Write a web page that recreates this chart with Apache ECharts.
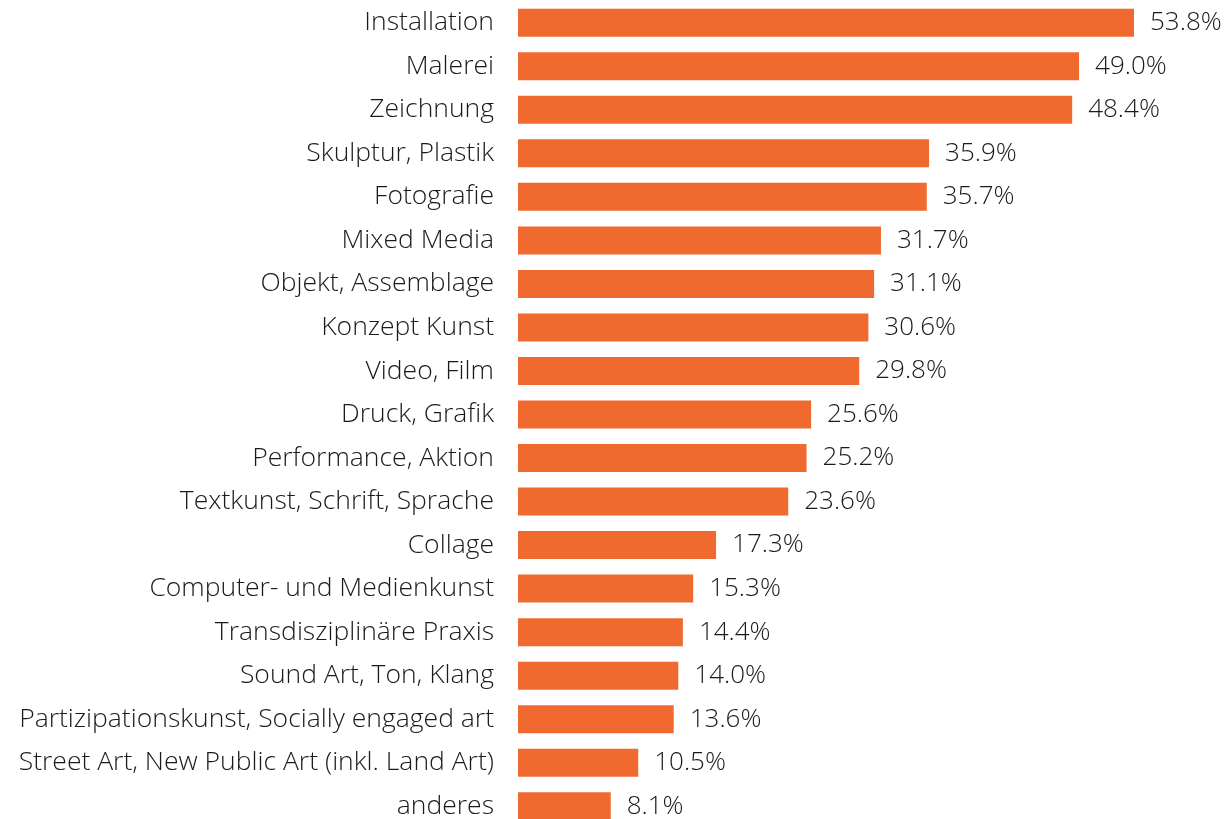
<!DOCTYPE html>
<html>
<head>
<meta charset="utf-8">
<script src="https://cdn.jsdelivr.net/npm/echarts@6/dist/echarts.min.js"></script>
<style>
  html, body { margin: 0; padding: 0; background: #fff; }
  #chart { width: 1225px; height: 819px; }
</style>
</head>
<body>
<div id="chart"></div>
<script>
var categories = [
	'Installation', 'Malerei', 'Zeichnung', 'Skulptur, Plastik', 'Fotografie',
	'Mixed Media', 'Objekt, Assemblage', 'Konzept Kunst', 'Video, Film',
	'Druck, Grafik', 'Performance, Aktion', 'Textkunst, Schrift, Sprache',
	'Collage', 'Computer- und Medienkunst', 'Transdisziplinäre Praxis',
	'Sound Art, Ton, Klang', 'Partizipationskunst, Socially engaged art',
	'Street Art, New Public Art (inkl. Land Art)', 'anderes'
];
var shares = [53.8, 49.0, 48.4, 35.9, 35.7, 31.7, 31.1, 30.6, 29.8, 25.6,
	25.2, 23.6, 17.3, 15.3, 14.4, 14.0, 13.6, 10.5, 8.1];

var chart = echarts.init(document.getElementById('chart'));
var font = '"Open Sans", "Noto Sans", sans-serif';

chart.setOption({
	animation : false,
	grid : {
		left : 518,
		width : 687,
		top : 1,
		height : 827,
		outerBoundsMode : 'none',
		containLabel : false
	},
	xAxis : {
		type : 'value',
		min : 0,
		max : 60,
		show : false
	},
	yAxis : {
		type : 'category',
		data : categories,
		inverse : true,
		axisLine : { show : false },
		axisTick : { show : false },
		axisLabel : {
			margin : 24,
			fontFamily : font,
			fontWeight : 300,
			fontSize : 26.5,
			color : '#1a1a1a'
		}
	},
	series : [ {
		type : 'bar',
		data : shares,
		barWidth : 28,
		itemStyle : { color : '#F0692F' },
		label : {
			show : true,
			position : 'right',
			distance : 16,
			fontFamily : font,
			fontWeight : 300,
			fontSize : 26,
			color : '#1a1a1a',
			formatter : function(p) {
				return p.value.toFixed(1) + '%';
			}
		}
	} ]
});
</script>
</body>
</html>
